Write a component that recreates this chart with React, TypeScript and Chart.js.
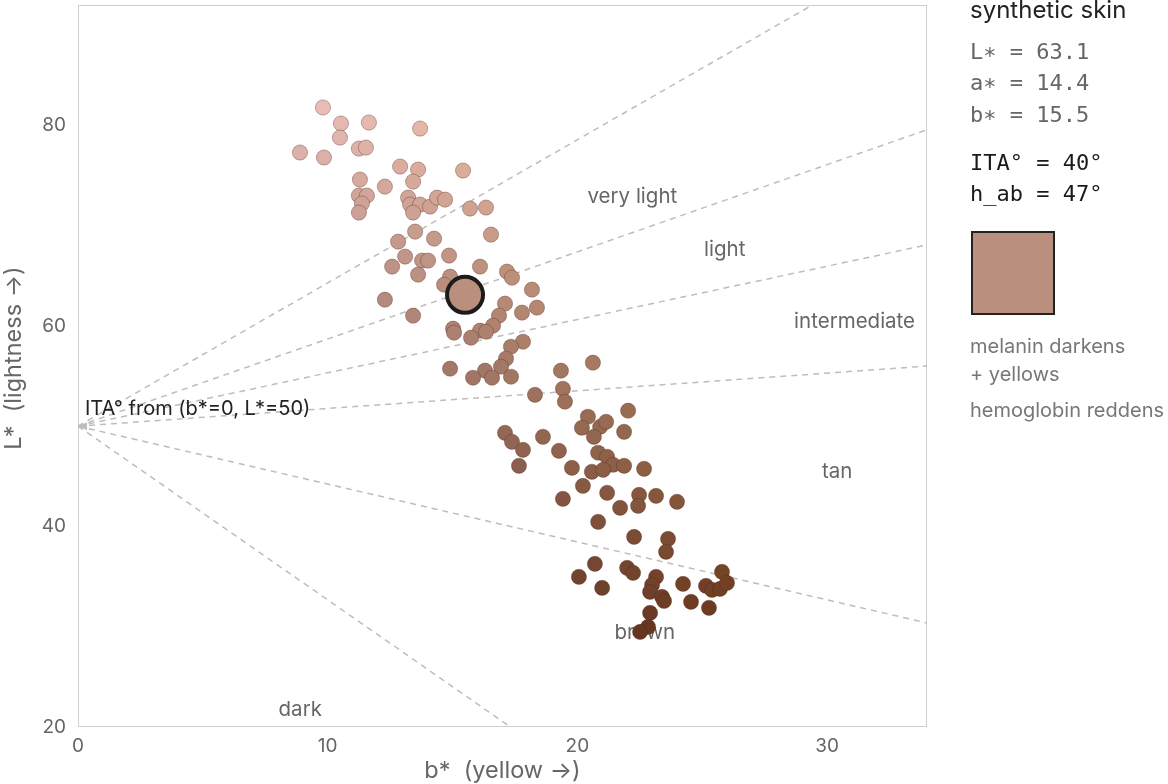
import React, { useEffect, useRef } from "react";
import { Chart, registerables } from "chart.js";

Chart.register(...registerables);

// ---- data ----
const bStar = [
  9.81, 10.53, 10.49, 11.65, 13.7, 8.89, 9.85, 11.25, 11.53, 12.9,
  13.62, 15.42, 11.29, 12.29, 13.42, 11.25, 11.57, 11.37, 11.25, 13.22,
  13.3, 13.7, 13.42, 14.1, 14.38, 14.7, 15.7, 16.34, 13.5, 14.26,
  16.54, 12.82, 13.1, 13.78, 14.02, 14.86, 12.58, 13.62, 14.9, 14.66,
  16.1, 17.18, 17.38, 18.18, 12.29, 17.1, 18.38, 17.78, 16.86, 13.42,
  16.62, 16.1, 16.34, 15.02, 15.06, 15.74, 17.82, 17.34, 17.14, 16.94,
  17.34, 14.9, 16.3, 15.82, 16.58, 19.34, 20.62, 18.3, 19.42, 19.5,
  17.1, 17.38, 17.82, 17.66, 18.62, 19.26, 20.42, 20.18, 20.91, 21.15,
  20.66, 22.03, 21.87, 20.83, 21.19, 21.43, 20.58, 21.03, 21.87, 22.67,
  19.78, 20.22, 21.19, 19.42, 21.71, 22.47, 22.43, 23.15, 23.99, 20.83,
  22.27, 23.63, 23.55, 20.7, 20.06, 20.99, 21.99, 22.23, 23.15, 22.99,
  22.91, 23.39, 23.47, 22.91, 24.23, 24.55, 25.15, 25.39, 25.79, 25.71,
  25.99, 25.27, 22.83, 22.51,
];
const lStar = [
  81.78, 80.18, 78.78, 80.28, 79.68, 77.29, 76.79, 77.68, 77.78, 75.89,
  75.59, 75.49, 74.59, 73.89, 74.39, 72.99, 72.99, 72.2, 71.3, 72.79,
  72.1, 72.1, 71.3, 71.9, 72.79, 72.59, 71.7, 71.8, 69.4, 68.7,
  69.1, 68.4, 66.91, 66.51, 66.51, 67.01, 65.91, 65.11, 64.91, 64.11,
  65.91, 65.41, 64.81, 63.61, 62.61, 62.22, 61.82, 61.32, 61.02, 61.02,
  60.02, 59.52, 59.42, 59.72, 59.32, 58.82, 58.42, 57.92, 56.73, 55.93,
  54.93, 55.73, 55.53, 54.83, 54.83, 55.53, 56.33, 53.13, 53.73, 52.44,
  49.34, 48.44, 47.64, 46.05, 48.94, 47.54, 50.94, 49.84, 49.94, 50.44,
  48.94, 51.54, 49.44, 47.35, 46.95, 46.15, 45.45, 45.65, 46.05, 45.75,
  45.85, 44.05, 43.35, 42.75, 41.86, 43.15, 42.06, 43.05, 42.46, 40.46,
  38.96, 38.76, 37.47, 36.27, 34.97, 33.87, 35.87, 35.37, 34.97, 34.17,
  33.47, 32.97, 32.57, 31.38, 34.27, 32.48, 34.07, 33.67, 35.47, 33.77,
  34.37, 31.88, 29.98, 29.48,
];

const sampleL = 63.1;
const sampleA = 14.4;
const sampleB = 15.5;
const sampleITA = 40;
const sampleHab = 47;

const itaBoundaries = [55, 41, 28, 10, -30, -60];
const regionNames = ["very light", "light", "intermediate", "tan", "brown", "dark"];
const regionLabelB = [22.2, 25.9, 31.1, 30.4, 22.7, 8.9];
const regionLabelL = [72.9, 67.6, 60.4, 45.4, 29.4, 21.7];

const xTickValues = [0, 10, 20, 30];
const yTickValues = [20, 40, 60, 80];
const xMin = 0, xMax = 34, yMin = 20, yMax = 92;
const originB = 0, originL = 50;

// ---- colour helpers ----
function labToRgb(L: number, a: number, b: number): string {
  const fy = (L + 16) / 116;
  const fx = fy + a / 500;
  const fz = fy - b / 200;
  const d = 6 / 29;
  const f = (t: number) => (t > d ? t * t * t : 3 * d * d * (t - 4 / 29));
  const X = 0.95047 * f(fx), Y = f(fy), Z = 1.08883 * f(fz);
  const lin = [
    3.2406 * X - 1.5372 * Y - 0.4986 * Z,
    -0.9689 * X + 1.8758 * Y + 0.0415 * Z,
    0.0557 * X - 0.204 * Y + 1.057 * Z,
  ];
  const g = lin.map((c) => {
    const v = c <= 0.0031308 ? 12.92 * c : 1.055 * Math.pow(Math.max(c, 0), 1 / 2.4) - 0.055;
    return Math.round(Math.min(1, Math.max(0, v)) * 255);
  });
  return `rgb(${g[0]},${g[1]},${g[2]})`;
}
function pointColor(L: number, b: number): string {
  const a = L > 50 ? 14.5 : 14.5 + (50 - L) * 0.25;
  return labToRgb(L - 1.5, a, b);
}

const FONT = "Inter, 'Noto Sans', sans-serif";
const MONO = "'DejaVu Sans Mono', 'Liberation Mono', monospace";

export default function App() {
  const ref = useRef<HTMLCanvasElement | null>(null);

  useEffect(() => {
    if (!ref.current) return;
    const pts = bStar.map((b, i) => ({ x: b, y: lStar[i] }));
    const colors = bStar.map((b, i) => pointColor(lStar[i], b));
    const sampleColor = labToRgb(sampleL, sampleA, sampleB);

    const lineSets = itaBoundaries.map((deg) => {
      const far = 60;
      const t = Math.tan((deg * Math.PI) / 180);
      return {
        type: "line" as const,
        data: [
          { x: originB, y: originL },
          { x: originB + far, y: originL + far * t },
        ],
        borderColor: "#bdbdbd",
        borderWidth: 1.5,
        borderDash: [6, 5],
        pointRadius: 0,
        fill: false,
        order: 5,
      };
    });

    const overlay = {
      id: "overlay",
      beforeDatasetsDraw(chart: any) {
        const { ctx, chartArea: ca, scales } = chart;
        const xs = scales.x, ys = scales.y;
        ctx.save();
        ctx.strokeStyle = "#cfcfcf";
        ctx.lineWidth = 1;
        ctx.strokeRect(ca.left + 0.5, ca.top + 0.5, ca.right - ca.left - 1, ca.bottom - ca.top - 1);
        ctx.font = `20.5px ${FONT}`;
        ctx.fillStyle = "#666";
        ctx.textAlign = "center";
        ctx.textBaseline = "middle";
        regionNames.forEach((n, i) => {
          ctx.fillText(n, xs.getPixelForValue(regionLabelB[i]), ys.getPixelForValue(regionLabelL[i]));
        });
        // axis titles
        ctx.font = `23.5px ${FONT}`;
        ctx.fillStyle = "#666";
        ctx.fillText("b*  (yellow →)", (ca.left + ca.right) / 2, ca.bottom + 44);
        ctx.save();
        ctx.translate(14, (ca.top + ca.bottom) / 2 - 8);
        ctx.rotate(-Math.PI / 2);
        ctx.fillText("L*  (lightness →)", 0, 0);
        ctx.restore();
        ctx.restore();
      },
      afterDatasetsDraw(chart: any) {
        const { ctx, scales } = chart;
        const ox = scales.x.getPixelForValue(originB);
        const oy = scales.y.getPixelForValue(originL);
        ctx.save();
        ctx.fillStyle = "#bdbdbd";
        ctx.beginPath();
        ctx.moveTo(ox + 1, oy);
        ctx.lineTo(ox + 9, oy - 4);
        ctx.lineTo(ox + 9, oy + 4);
        ctx.closePath();
        ctx.fill();
        ctx.font = `20px ${FONT}`;
        ctx.fillStyle = "#222";
        ctx.textAlign = "left";
        ctx.textBaseline = "middle";
        ctx.fillText("ITA° from (b*=0, L*=50)", ox + 7, oy - 17);
        ctx.restore();
      },
    };

    const chart = new Chart(ref.current, {
      type: "scatter",
      data: {
        datasets: [
          {
            data: [{ x: sampleB, y: sampleL }],
            backgroundColor: sampleColor,
            borderColor: "#1c1c1c",
            borderWidth: 4,
            pointRadius: 18,
            order: 1,
          } as any,
          {
            data: pts,
            backgroundColor: colors,
            borderColor: "rgba(80,40,25,0.35)",
            borderWidth: 1,
            pointRadius: 7.6,
            order: 2,
          } as any,
          ...lineSets,
        ],
      },
      options: {
        animation: false,
        responsive: false,
        maintainAspectRatio: false,
        layout: { autoPadding: false, padding: { left: 0, top: 5, right: 241, bottom: 0 } },
        plugins: { legend: { display: false }, tooltip: { enabled: false } },
        scales: {
          x: {
            type: "linear",
            min: xMin,
            max: xMax,
            grid: { display: false, drawTicks: false },
            border: { display: false },
            afterFit: (s: any) => { s.height = 57; s.paddingLeft = 0; s.paddingRight = 0; },
            afterBuildTicks: (s: any) => { s.ticks = xTickValues.map((v) => ({ value: v })); },
            ticks: { padding: 8, color: "#666", font: { family: FONT, size: 19 } },
          },
          y: {
            type: "linear",
            min: yMin,
            max: yMax,
            grid: { display: false, drawTicks: false },
            border: { display: false },
            afterFit: (s: any) => { s.width = 78; s.paddingTop = 0; s.paddingBottom = 0; },
            afterBuildTicks: (s: any) => { s.ticks = yTickValues.map((v) => ({ value: v })); },
            ticks: { padding: 12, color: "#666", font: { family: FONT, size: 19 } },
          },
        },
      } as any,
      plugins: [overlay],
    });
    return () => chart.destroy();
  }, []);

  const swatch = labToRgb(sampleL, sampleA, sampleB);
  const mono = { position: "absolute" as const, left: 970, fontFamily: MONO, fontSize: 22, lineHeight: "22px", whiteSpace: "nowrap" as const };
  const note = { position: "absolute" as const, left: 970, fontFamily: FONT, fontSize: 20, lineHeight: "20px", color: "#777", whiteSpace: "nowrap" as const };

  return (
    <div style={{ position: "fixed", left: 0, top: 0, width: 1168, height: 784, background: "#fff" }}>
      <canvas ref={ref} width={1168} height={784} style={{ position: "absolute", left: 0, top: 0 }} />
      <div style={{ position: "absolute", left: 970, top: -2, fontFamily: FONT, fontSize: 24, lineHeight: "24px", color: "#222", whiteSpace: "nowrap" }}>
        synthetic skin
      </div>
      <div style={{ ...mono, top: 41, color: "#666" }}>L∗ = {sampleL.toFixed(1)}</div>
      <div style={{ ...mono, top: 72, color: "#666" }}>a∗ = {sampleA.toFixed(1)}</div>
      <div style={{ ...mono, top: 103.5, color: "#666" }}>b∗ = {sampleB.toFixed(1)}</div>
      <div style={{ ...mono, top: 151.5, color: "#1a1a1a" }}>ITA° = {sampleITA}°</div>
      <div style={{ ...mono, top: 183, color: "#1a1a1a" }}>h_ab = {sampleHab}°</div>
      <div style={{ position: "absolute", left: 971, top: 231, width: 80, height: 80, background: swatch, border: "2px solid #222" }} />
      <div style={{ ...note, top: 336 }}>melanin darkens</div>
      <div style={{ ...note, top: 364 }}>+ yellows</div>
      <div style={{ ...note, top: 400 }}>hemoglobin reddens</div>
    </div>
  );
}
